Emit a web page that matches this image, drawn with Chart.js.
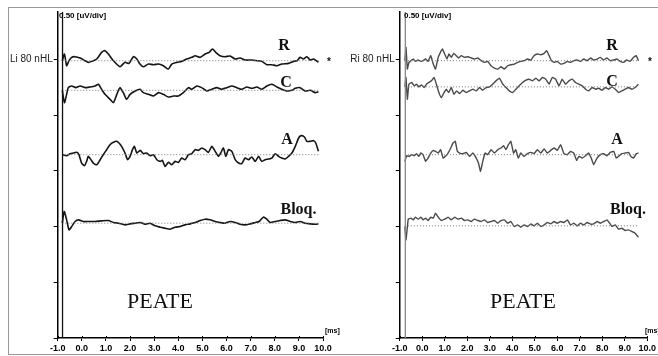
<!DOCTYPE html>
<html>
<head>
<meta charset="utf-8">
<script src="https://cdn.jsdelivr.net/npm/chart.js@4.4.1/dist/chart.umd.min.js"></script>
<style>
  html, body { margin: 0; padding: 0; background: #fff; }
  #wrap { position: relative; width: 658px; height: 356px; overflow: hidden; }
  #frame { position: absolute; left: 8px; top: 7px; width: 670px; height: 348px; border: 1.5px solid #999; box-sizing: border-box; }
  canvas { position: absolute; left: 0; top: 0; }
</style>
</head>
<body>
<div id="wrap">
  <div id="frame"></div>
  <canvas id="leftChart" width="658" height="356"></canvas>
  <canvas id="rightChart" width="658" height="356"></canvas>
</div>
<script>
// time in ms, amplitude in uV (deviation from each trace baseline)
const leftR = [[-0.81,0],[-0.72,0.06],[-0.63,-0.045],[-0.53,0],[-0.42,0.03],[-0.28,0.036],[-0.07,0.024],[0.13,0],[0.27,-0.015],[0.41,-0.006],[0.62,0.015],[0.82,0.075],[0.96,0.09],[1.10,0.06],[1.31,0],[1.58,-0.054],[1.79,-0.015],[1.96,-0.024],[2.14,0.036],[2.28,0.015],[2.41,-0.03],[2.55,-0.054],[2.76,-0.03],[2.97,-0.036],[3.18,-0.03],[3.38,-0.045],[3.59,-0.075],[3.73,-0.03],[3.94,-0.015],[4.14,-0.006],[4.35,0.015],[4.56,0.03],[4.70,0.045],[4.90,0.03],[5.11,0.06],[5.28,0.075],[5.42,0.105],[5.55,0.075],[5.73,0.045],[5.94,0.036],[6.15,0.042],[6.36,0.015],[6.56,0.024],[6.77,0.006],[7.05,0.006],[7.26,0],[7.46,-0.006],[7.67,-0.036],[7.88,-0.036],[8.09,-0.045],[8.29,-0.03],[8.57,-0.024],[8.78,-0.006],[8.92,0],[9.05,0.03],[9.19,0.015],[9.33,0.036],[9.47,0.006],[9.61,0.015],[9.81,-0.015]];
const leftC = [[-0.81,0],[-0.72,-0.111],[-0.63,-0.036],[-0.56,0.024],[-0.42,0.039],[-0.25,0.024],[-0.07,0.039],[0.13,0.024],[0.34,0.03],[0.55,0.039],[0.69,0.054],[0.82,0.009],[0.96,-0.036],[1.17,-0.081],[1.31,-0.111],[1.45,-0.036],[1.58,0.024],[1.72,-0.021],[1.86,-0.081],[2.00,-0.036],[2.21,-0.006],[2.41,0.009],[2.55,-0.021],[2.76,-0.036],[2.97,-0.051],[3.18,-0.021],[3.38,-0.036],[3.59,-0.06],[3.80,-0.051],[4.00,-0.051],[4.21,-0.021],[4.42,0.024],[4.56,0.009],[4.77,0.039],[4.97,0.024],[5.18,-0.006],[5.39,0.009],[5.60,0.024],[5.80,0.009],[6.01,0.024],[6.22,0.039],[6.43,0.024],[6.63,0.009],[6.84,0.03],[7.05,0.018],[7.26,0.03],[7.46,0.009],[7.67,0.039],[7.88,0.054],[8.09,0.03],[8.29,0.009],[8.50,-0.006],[8.71,0],[8.85,0.018],[9.05,0.024],[9.26,-0.006],[9.47,0],[9.68,-0.021],[9.81,-0.012]];
const leftA = [[-0.81,0],[-0.63,-0.009],[-0.49,0.009],[-0.35,0.015],[-0.21,0.021],[-0.12,0],[-0.01,-0.075],[0.11,-0.099],[0.20,-0.06],[0.27,-0.015],[0.38,-0.045],[0.48,-0.075],[0.62,-0.09],[0.76,-0.045],[0.89,0],[1.03,0.045],[1.17,0.09],[1.31,0.111],[1.45,0.12],[1.54,0.105],[1.65,0.075],[1.79,0.015],[1.90,-0.045],[2.00,-0.015],[2.10,0.045],[2.18,0.075],[2.28,0.015],[2.42,0.039],[2.55,0.009],[2.69,0.015],[2.83,-0.009],[2.97,0],[3.11,-0.045],[3.25,-0.06],[3.34,-0.051],[3.45,-0.105],[3.59,-0.069],[3.73,-0.09],[3.87,-0.06],[4.01,-0.069],[4.14,-0.03],[4.28,-0.045],[4.42,0],[4.56,0.009],[4.70,0.045],[4.84,0.039],[4.97,0.06],[5.11,0.045],[5.25,0.021],[5.39,0.075],[5.53,0.03],[5.67,-0.015],[5.76,0.015],[5.87,0.06],[5.97,-0.015],[6.08,0.045],[6.22,0.03],[6.36,-0.045],[6.50,-0.075],[6.63,-0.081],[6.77,-0.03],[6.91,-0.045],[7.05,-0.021],[7.19,-0.06],[7.33,-0.015],[7.46,-0.06],[7.60,-0.045],[7.74,-0.039],[7.88,-0.03],[8.02,0.009],[8.16,-0.015],[8.29,-0.03],[8.43,-0.039],[8.57,-0.015],[8.71,0.015],[8.85,0.075],[8.99,0.15],[9.10,0.171],[9.23,0.159],[9.33,0.12],[9.47,0.12],[9.61,0.126],[9.70,0.105],[9.81,0.03]];
const leftBloq = [[-0.81,0],[-0.73,0.105],[-0.63,0.03],[-0.53,-0.06],[-0.42,-0.03],[-0.28,0.015],[-0.14,0.03],[0.06,0.015],[0.27,0.015],[0.55,0.015],[0.82,0.021],[1.10,0.024],[1.31,0.006],[1.52,0],[1.79,-0.015],[2.00,-0.006],[2.21,0],[2.42,0.006],[2.62,-0.009],[2.83,0],[3.04,-0.024],[3.25,-0.036],[3.45,-0.045],[3.66,-0.054],[3.87,-0.036],[4.08,-0.03],[4.28,-0.015],[4.49,-0.006],[4.70,0.006],[4.91,0.024],[5.11,0.036],[5.32,0.03],[5.53,0.015],[5.73,0.006],[5.94,0],[6.15,0.015],[6.36,0.006],[6.56,-0.009],[6.77,-0.015],[6.98,-0.006],[7.19,0.006],[7.35,0.015],[7.53,0.054],[7.67,0.036],[7.81,0.006],[8.02,0.015],[8.22,0.024],[8.43,0.03],[8.64,0.015],[8.85,0.006],[9.05,0.015],[9.26,0],[9.47,-0.006],[9.68,-0.009],[9.81,-0.006]];

const rightR = [[-0.77,0],[-0.72,0.12],[-0.66,-0.075],[-0.59,-0.015],[-0.50,0],[-0.40,0.015],[-0.30,-0.006],[-0.18,0.006],[-0.06,-0.006],[0.04,0],[0.15,0.015],[0.26,-0.006],[0.38,0.045],[0.49,-0.03],[0.59,-0.075],[0.71,0.03],[0.81,0.075],[0.90,0.105],[1.00,0.06],[1.10,0.015],[1.19,0.06],[1.29,0.03],[1.40,0.066],[1.51,0.045],[1.62,0.024],[1.74,0.045],[1.88,0.03],[2.03,0.036],[2.18,0.024],[2.32,0.015],[2.47,0.024],[2.62,0],[2.77,-0.015],[2.91,-0.006],[3.06,-0.045],[3.21,-0.066],[3.36,-0.075],[3.50,-0.054],[3.65,-0.075],[3.80,-0.045],[3.94,-0.036],[4.09,-0.03],[4.24,-0.015],[4.38,-0.006],[4.53,0],[4.68,0.015],[4.83,0.006],[4.97,0.045],[5.12,0.06],[5.27,0.054],[5.42,0.066],[5.53,0.09],[5.64,0.045],[5.74,0],[5.86,-0.015],[6.00,-0.006],[6.15,-0.03],[6.30,-0.024],[6.45,-0.006],[6.59,-0.015],[6.74,0],[6.89,0.006],[7.03,-0.006],[7.18,0.015],[7.33,0],[7.48,0.024],[7.62,0.006],[7.77,0.015],[7.92,0.03],[8.06,0.006],[8.21,0.024],[8.36,0],[8.51,0.006],[8.65,0.015],[8.80,-0.006],[8.95,-0.015],[9.09,0.006],[9.24,-0.006],[9.39,0.03],[9.51,0.045],[9.61,0]];
const rightC = [[-0.77,0],[-0.72,0.084],[-0.66,-0.111],[-0.59,0.024],[-0.47,0.039],[-0.35,0.009],[-0.25,0.024],[-0.15,0],[-0.03,0.018],[0.09,-0.006],[0.19,0.024],[0.29,0.039],[0.41,0.054],[0.53,0.084],[0.63,0.024],[0.74,-0.051],[0.85,-0.096],[0.97,-0.051],[1.07,-0.021],[1.18,-0.051],[1.29,-0.006],[1.41,-0.066],[1.53,-0.036],[1.66,-0.06],[1.81,-0.03],[1.96,-0.051],[2.10,-0.036],[2.25,-0.021],[2.40,-0.036],[2.55,-0.006],[2.69,-0.03],[2.84,-0.006],[2.99,0],[3.13,0.024],[3.28,0.054],[3.43,0.078],[3.58,0.024],[3.72,-0.006],[3.87,-0.036],[4.02,-0.051],[4.16,-0.021],[4.31,0.009],[4.46,0.039],[4.61,0.06],[4.75,0.069],[4.90,0.054],[5.05,0.078],[5.19,0.054],[5.34,0.084],[5.49,0.069],[5.64,0.024],[5.78,0.084],[5.93,0.069],[6.08,0.009],[6.22,0.069],[6.37,0.024],[6.52,0.054],[6.67,0.069],[6.81,0.039],[6.96,0.024],[7.11,0.009],[7.26,-0.021],[7.40,-0.036],[7.55,-0.006],[7.70,-0.021],[7.84,-0.012],[7.99,-0.03],[8.14,-0.006],[8.29,-0.021],[8.43,0],[8.58,-0.021],[8.73,-0.051],[8.87,-0.036],[9.02,-0.021],[9.17,-0.006],[9.32,-0.021],[9.46,-0.006],[9.61,0.024]];
const rightA = [[-0.77,-0.06],[-0.69,-0.009],[-0.59,-0.015],[-0.47,0],[-0.35,-0.009],[-0.25,0.009],[-0.15,-0.015],[-0.06,0.015],[0.04,0],[0.15,-0.06],[0.26,-0.03],[0.38,0.015],[0.49,0.039],[0.59,0.03],[0.71,0.015],[0.82,0.045],[0.93,-0.03],[1.03,-0.015],[1.15,0.015],[1.27,0.06],[1.37,0.105],[1.47,0.12],[1.56,0.03],[1.66,0.015],[1.81,0.009],[1.96,0.021],[2.10,-0.015],[2.25,0.015],[2.40,-0.03],[2.50,-0.075],[2.59,-0.15],[2.69,-0.06],[2.80,0.015],[2.91,0],[3.06,0.045],[3.21,0.015],[3.36,0.045],[3.50,0.06],[3.62,0.081],[3.72,0.045],[3.83,0.09],[3.94,0.12],[4.06,0.015],[4.16,0.045],[4.27,-0.03],[4.38,0.015],[4.53,-0.015],[4.68,0.009],[4.83,0.021],[4.97,0.009],[5.12,0.045],[5.27,0.015],[5.42,0.051],[5.56,0.015],[5.71,0.039],[5.86,0.06],[6.00,0.039],[6.15,0.09],[6.30,0.009],[6.45,0],[6.59,0.03],[6.74,0.015],[6.86,-0.051],[6.96,-0.015],[7.11,-0.03],[7.26,-0.009],[7.40,0.015],[7.51,-0.03],[7.62,-0.09],[7.77,-0.03],[7.92,0],[8.06,0.009],[8.21,-0.009],[8.36,0.021],[8.51,0.03],[8.62,-0.03],[8.73,-0.015],[8.87,0.009],[9.02,0.015],[9.17,0.021],[9.27,-0.015],[9.39,-0.03],[9.51,0.009],[9.61,0.015]];
const rightBloq = [[-0.77,-0.006],[-0.72,-0.126],[-0.62,0.06],[-0.50,0.069],[-0.40,0.054],[-0.30,0.078],[-0.18,0.06],[-0.06,0.078],[0.04,0.054],[0.15,0.069],[0.26,0.048],[0.38,0.078],[0.49,0.069],[0.59,0.114],[0.71,0.078],[0.85,0.048],[1.00,0.06],[1.15,0.078],[1.29,0.054],[1.44,0.078],[1.59,0.06],[1.74,0.069],[1.88,0.048],[2.03,0.054],[2.18,0.039],[2.32,0.06],[2.47,0.048],[2.62,0.039],[2.77,0.054],[2.91,0.03],[3.06,0.039],[3.21,0.048],[3.36,0.024],[3.50,0.048],[3.65,0.054],[3.80,0.024],[3.94,0.039],[4.09,-0.006],[4.24,0.009],[4.38,-0.012],[4.53,0.009],[4.68,-0.006],[4.83,0.018],[4.97,0],[5.12,0.024],[5.27,-0.006],[5.42,0.009],[5.56,0.03],[5.71,0.018],[5.86,0.039],[6.00,0.024],[6.15,0.039],[6.30,0.03],[6.45,0.054],[6.59,0.009],[6.74,0.024],[6.89,0],[7.03,0.024],[7.18,0.009],[7.33,0.03],[7.48,0.015],[7.62,0.018],[7.77,0.039],[7.92,0.024],[8.06,0.039],[8.21,0.054],[8.33,0.024],[8.43,-0.006],[8.58,0.009],[8.73,-0.03],[8.87,-0.021],[9.02,-0.042],[9.17,-0.036],[9.32,-0.051],[9.46,-0.066],[9.61,-0.102]];

// baselines of the four traces (uV on a 0.50 uV/div scale)
const traceNames = ['R', 'C', 'A', 'Bloq.'];
const leftBase = [2.49, 2.224, 1.646, 1.031];
const rightBase = [2.49, 2.255, 1.646, 1.007];
const xTicks = [-1, 0, 1, 2, 3, 4, 5, 6, 7, 8, 9, 10];
const yTop = 2.93;

const narrow = '"Liberation Sans Narrow", "Arial Narrow", "Liberation Sans", Arial, sans-serif';
const serif = '"Liberation Serif", "Times New Roman", serif';

const textPlugin = {
  id: 'texts',
  afterDraw(chart, args, o) {
    const ctx = chart.ctx;
    const a = chart.chartArea;
    const xs = chart.scales.x;
    ctx.save();
    // small tick marks above the x axis too
    ctx.strokeStyle = '#000';
    ctx.lineWidth = 1;
    xTicks.forEach(v => {
      const px = Math.round(xs.getPixelForValue(v)) + 0.5;
      ctx.beginPath();
      ctx.moveTo(px, a.bottom - 2);
      ctx.lineTo(px, a.bottom);
      ctx.stroke();
    });
    ctx.fillStyle = '#000';
    ctx.textBaseline = 'alphabetic';
    ctx.textAlign = 'left';
    ctx.font = 'bold 8px ' + narrow;
    ctx.fillText('0.50 [uV/div]', o.divX, a.top + 6.5);
    ctx.font = 'bold 7px ' + narrow;
    ctx.fillText('[ms]', o.msX, 333);
    ctx.textAlign = 'center';
    ctx.fillStyle = '#111';
    ctx.font = 'bold 16px ' + serif;
    o.labels.forEach((p, i) => ctx.fillText(traceNames[i], p[0], p[1]));
    ctx.font = '22px ' + serif;
    ctx.fillText('PEATE', o.peateX, 308);
    ctx.font = 'bold 10px "Liberation Sans", Arial, sans-serif';
    ctx.fillText('*', o.starX, 65);
    ctx.restore();
  }
};

function makeChart(id, traces, bases, s) {
  const datasets = [{
    data: [{ x: s.stim, y: 0 }, { x: s.stim, y: yTop }],
    borderColor: s.stimColor, borderWidth: 1.3, pointRadius: 0
  }];
  traces.forEach((tr, i) => {
    const base = bases[i];
    datasets.push({
      data: [{ x: tr[0][0], y: base }, { x: tr[tr.length - 1][0], y: base }],
      borderColor: '#777', borderWidth: 1, borderDash: [1, 2], pointRadius: 0
    });
    datasets.push({
      data: tr.map(p => ({ x: p[0], y: base + p[1] })),
      borderColor: s.color, borderWidth: s.width, pointRadius: 0, tension: s.tension
    });
  });

  return new Chart(document.getElementById(id), {
    type: 'line',
    data: { datasets },
    plugins: [textPlugin],
    options: {
      responsive: false,
      animation: false,
      layout: { padding: { left: 0, top: 11.7, right: s.padRight, bottom: 0 } },
      plugins: {
        legend: { display: false },
        tooltip: { enabled: false },
        texts: s.texts
      },
      scales: {
        x: {
          type: 'linear', min: -1, max: 10,
          afterBuildTicks: sc => { sc.ticks = xTicks.map(v => ({ value: v })); },
          ticks: {
            autoSkip: false, maxRotation: 0, padding: 2, color: '#000',
            font: { family: narrow, size: 9, weight: 'bold' },
            callback: v => v.toFixed(1)
          },
          grid: { drawOnChartArea: false, tickLength: 3, color: '#000' },
          border: { color: '#000', width: 1.5 },
          afterFit: sc => { sc.height = 18; }
        },
        y: {
          type: 'linear', min: 0, max: yTop,
          afterBuildTicks: sc => {
            sc.ticks = sc.ticks.filter(t => Math.abs(t.value * 2 - Math.round(t.value * 2)) < 1e-6);
          },
          ticks: {
            stepSize: 0.5, autoSkip: false, padding: 1, color: '#222',
            font: { family: '"Liberation Sans", Arial, sans-serif', size: 10 },
            callback: v => Math.abs(v - 2.5) < 1e-6 ? s.ylabel : ''
          },
          grid: { drawOnChartArea: false, tickLength: 4, color: '#000' },
          border: { color: '#000', width: 1.5 },
          afterFit: sc => { sc.width = s.yWidth; }
        }
      }
    }
  });
}

makeChart('leftChart', [leftR, leftC, leftA, leftBloq], leftBase, {
  stim: -0.8, stimColor: '#111', color: '#151515', width: 1.6, tension: 0.2,
  ylabel: 'Li 80 nHL', yWidth: 57.7, padRight: 335,
  texts: { divX: 59, msX: 325, peateX: 160, starX: 329,
    labels: [[284, 50], [286, 87], [287, 143.5], [298.5, 214]] }
});

makeChart('rightChart', [rightR, rightC, rightA, rightBloq], rightBase, {
  stim: -0.75, stimColor: '#888', color: '#4a4a4a', width: 1.4, tension: 0.1,
  ylabel: 'Ri 80 nHL', yWidth: 399.7, padRight: 9,
  texts: { divX: 404, msX: 645, peateX: 523, starX: 650,
    labels: [[612, 50], [612, 86], [617, 143.5], [628, 214]] }
});
</script>
</body>
</html>
